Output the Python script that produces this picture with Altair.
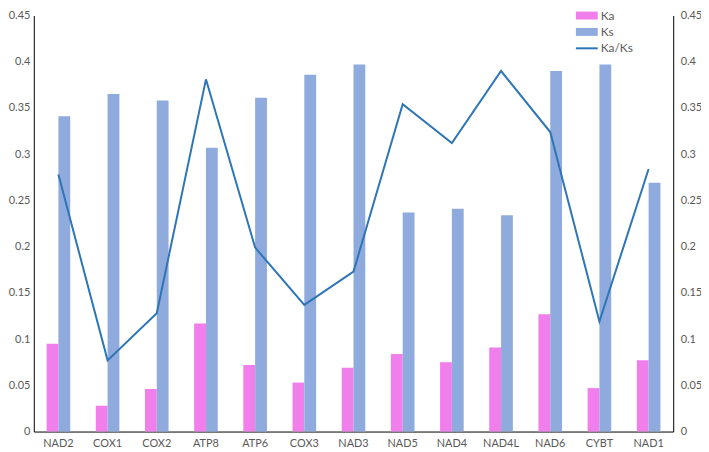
import altair as alt
import pandas as pd

genes = ["NAD2", "COX1", "COX2", "ATP8", "ATP6", "COX3", "NAD3",
         "NAD5", "NAD4", "NAD4L", "NAD6", "CYBT", "NAD1"]
ka = [0.095, 0.028, 0.046, 0.117, 0.072, 0.053, 0.069,
      0.084, 0.075, 0.091, 0.127, 0.047, 0.077]
ks = [0.341, 0.365, 0.358, 0.307, 0.361, 0.386, 0.397,
      0.237, 0.241, 0.234, 0.390, 0.397, 0.269]
ratio = [0.278, 0.077, 0.128, 0.381, 0.199, 0.137, 0.173,
         0.354, 0.312, 0.390, 0.324, 0.119, 0.284]
series = ["Ka", "Ks", "Ka/Ks"]
colors = ["#F07FEB", "#8FAADC", "#2E75B6"]

bars = pd.DataFrame(
    [{"gene": g, "series": "Ka", "value": v} for g, v in zip(genes, ka)]
    + [{"gene": g, "series": "Ks", "value": v} for g, v in zip(genes, ks)]
)
line_df = pd.DataFrame({"gene": genes, "ratio": ratio})

FONT = "Lato"
TXT = "#595959"

xscale = alt.Scale(domain=genes, paddingInner=0.52, paddingOuter=0.26)
yscale = alt.Scale(domain=[0, 0.45], nice=False)
ticks = [0, 0.05, 0.1, 0.15, 0.2, 0.25, 0.3, 0.35, 0.4, 0.45]

def yaxis(orient):
    return alt.Axis(orient=orient, values=ticks, grid=False, ticks=False,
                    domainColor="#000000", domainWidth=1, labelColor=TXT,
                    labelFont=FONT, labelFontSize=11,
                    labelPadding=4 if orient == "left" else 7,
                    format="~g", title=None)

bar_layer = alt.Chart(bars).mark_bar().encode(
    x=alt.X("gene:N", scale=xscale, sort=genes,
            axis=alt.Axis(title=None, ticks=False, labelAngle=0,
                          domainColor="#000000", labelColor=TXT,
                          labelFont=FONT, labelFontSize=11, labelPadding=6)),
    xOffset=alt.XOffset("series:N", sort=["Ka", "Ks"]),
    y=alt.Y("value:Q", scale=yscale, axis=yaxis("left")),
    color=alt.Color("series:N", scale=alt.Scale(domain=series[:2], range=colors[:2]),
                    legend=None),
)

line_layer = alt.Chart(line_df).mark_line(color=colors[2], strokeWidth=2).encode(
    x=alt.X("gene:N", scale=xscale, sort=genes),
    y=alt.Y("ratio:Q", scale=yscale, axis=yaxis("right")),
)

one = pd.DataFrame({"a": [0]})
leg_layers = []
leg_y = [0, 16.5, 33]
for i, (name, col) in enumerate(zip(series, colors)):
    if i < 2:
        sym = alt.Chart(one).mark_rect(color=col).encode(
            x=alt.value(546), x2=alt.value(568),
            y=alt.value(leg_y[i] - 4), y2=alt.value(leg_y[i] + 4))
    else:
        sym = alt.Chart(one).mark_rule(color=col, strokeWidth=2).encode(
            x=alt.value(546), x2=alt.value(568), y=alt.value(leg_y[i]))
    txt = alt.Chart(one).mark_text(align="left", baseline="middle", font=FONT,
                                   fontSize=12, color=TXT, text=name).encode(
        x=alt.value(571), y=alt.value(leg_y[i]))
    leg_layers += [sym, txt]

chart = alt.layer(bar_layer, line_layer, *leg_layers).resolve_scale(
    y="independent"
).properties(
    width=644, height=419,
    autosize=alt.AutoSizeParams(type="none"),
    padding={"left": 26, "top": 6, "right": 28, "bottom": 19},
).configure_view(stroke=None)

chart.save("out.html", embed_options={"renderer": "svg", "actions": False})
